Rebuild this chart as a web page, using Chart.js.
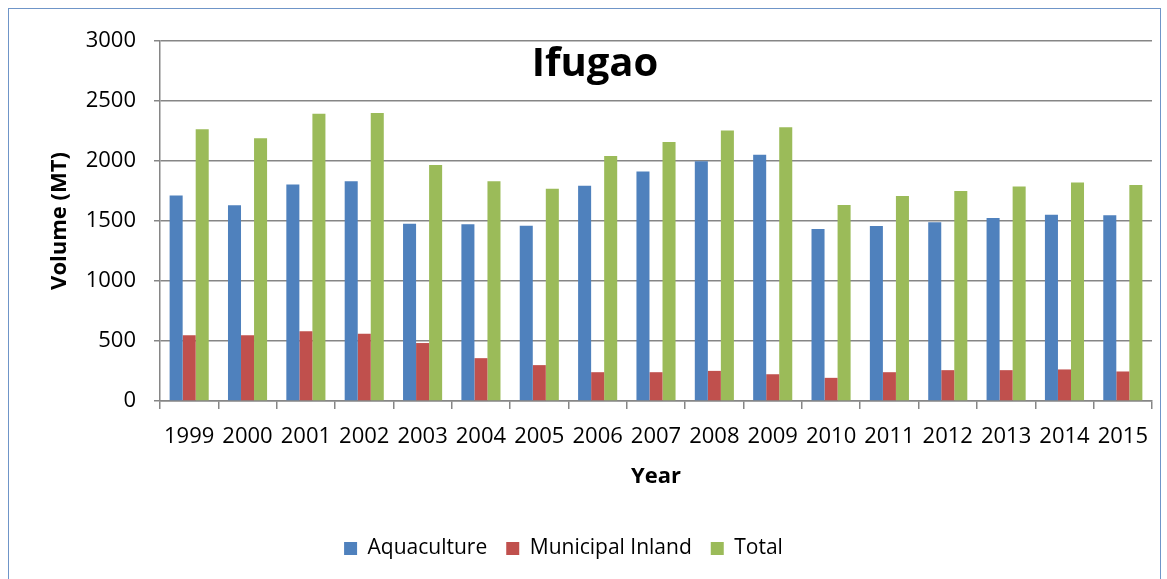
<!DOCTYPE html>
<html>
<head>
<meta charset="utf-8">
<script src="https://cdn.jsdelivr.net/npm/chart.js@4.4.1/dist/chart.umd.min.js"></script>
<style>
  html, body { margin: 0; padding: 0; background: #fff; }
  #wrap { position: relative; width: 1167px; height: 579px; overflow: hidden; }
  #frame { position: absolute; left: 8px; top: 8px; width: 1153px; height: 600px; border: 1px solid #6f95c8; box-sizing: border-box; }
  #title { position: absolute; left: 0; width: 1190px; top: 41px; line-height: 1; text-align: center; font-family: "Open Sans", sans-serif; font-weight: bold; font-size: 40px; color: #000; }
  canvas { position: absolute; left: 0; top: 0; }
</style>
</head>
<body>
<div id="wrap">
  <div id="frame"></div>
  <canvas id="myChart" width="1167" height="579"></canvas>
  <div id="title">Ifugao</div>
</div>
<script>
var years = ['1999', '2000', '2001', '2002', '2003', '2004', '2005', '2006', '2007', '2008', '2009', '2010', '2011', '2012', '2013', '2014', '2015'];
var aquaculture = [1712, 1631, 1804, 1832, 1477, 1472, 1461, 1793, 1913, 1997, 2053, 1433, 1458, 1489, 1525, 1553, 1547];
var municipalInland = [547, 547, 581, 561, 483, 357, 299, 240, 240, 251, 223, 193, 240, 257, 257, 263, 246];
var total = [2265, 2190, 2394, 2399, 1966, 1832, 1768, 2042, 2159, 2254, 2282, 1634, 1709, 1751, 1788, 1821, 1799];
var yTicks = [0, 500, 1000, 1500, 2000, 2500, 3000];

var ctx = document.getElementById('myChart');
var font = "'Open Sans', sans-serif";
var grey = '#868686';

// nudge the legend left, it sits left of the plot centre in the original
var legendShift = {
    id: 'legendShift',
    afterLayout: function (chart) {
        chart.legend.left -= 34;
        chart.legend.right -= 34;
    }
};

var chart = new Chart(ctx, {
    type: 'bar',
    data: {
        labels: years,
        datasets: [
            { label: 'Aquaculture', data: aquaculture, backgroundColor: '#4f81bd' },
            { label: 'Municipal Inland', data: municipalInland, backgroundColor: '#c0504d' },
            { label: 'Total', data: total, backgroundColor: '#9bbb59' }
        ]
    },
    plugins: [legendShift],
    options: {
        responsive: false,
        animation: false,
        layout: { padding: { left: 43, right: 15, top: 41, bottom: 10 } },
        datasets: { bar: { categoryPercentage: 0.67, barPercentage: 1 } },
        scales: {
            x: {
                afterFit: function (s) { s.height = 118; },
                grid: { display: true, drawOnChartArea: false, drawTicks: true, tickLength: 8, color: grey, lineWidth: 1.5, offset: true },
                border: { color: grey, width: 1.5 },
                ticks: { color: '#000', font: { family: font, size: 22 }, padding: 15, maxRotation: 0, autoSkip: false },
                title: { display: true, text: 'Year', color: '#000', font: { family: font, size: 22, weight: 'bold' }, padding: { top: 4, bottom: 29 } }
            },
            y: {
                min: 0,
                max: 3000,
                afterFit: function (s) { s.width = 117; },
                afterBuildTicks: function (s) { s.ticks = yTicks.map(function (v) { return { value: v }; }); },
                grid: { color: grey, lineWidth: 1.5, tickLength: 6 },
                border: { color: grey, width: 1.5 },
                ticks: { color: '#000', font: { family: font, size: 22 }, padding: 18, callback: function (v) { return String(v); } },
                title: { display: true, text: 'Volume (MT)', color: '#000', font: { family: font, size: 22, weight: 'bold' }, padding: { top: 4, bottom: 4 } }
            }
        },
        plugins: {
            legend: {
                position: 'bottom',
                labels: { color: '#000', font: { family: font, size: 21 }, boxWidth: 13, boxHeight: 13, padding: 19 }
            },
            tooltip: { enabled: false }
        }
    }
});
</script>
</body>
</html>
